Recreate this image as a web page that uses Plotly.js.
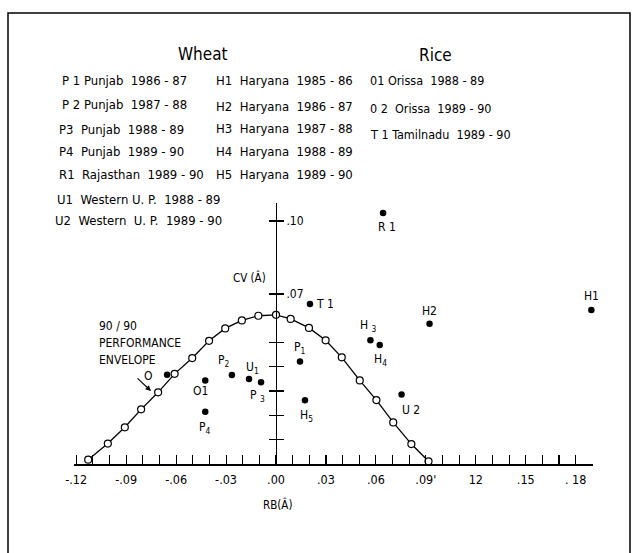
<!DOCTYPE html>
<html><head><meta charset="utf-8">
<script src="https://cdn.plot.ly/plotly-3.0.1.min.js"></script>
<style>html,body{margin:0;padding:0;background:#fff}#chart{width:635px;height:553px}</style>
</head><body><div id="chart"></div>
<script>
// ---- data ----
const envelopeRB = [-0.1128,-0.101,-0.0908,-0.081,-0.0708,-0.0609,-0.0503,-0.0402,-0.0305,-0.0205,-0.0106,0.0,0.0088,0.0198,0.0298,0.0395,0.0503,0.0603,0.0704,0.0813,0.0916];
const envelopeCV = [0.0018,0.0084,0.0151,0.0225,0.0295,0.0371,0.0436,0.0507,0.0558,0.0591,0.0610,0.0614,0.0597,0.0560,0.0509,0.0439,0.0344,0.0263,0.0171,0.0082,0.0011];
const pointIds   = ['T1','R1','H1','H2','H3','H4','U2','P1','H5','P2','U1','P3','O1','P4','O2'];
const pointText  = ['T 1','R 1','H1','H2','H <sub>3</sub>','H<sub>4</sub>','U 2','P<sub>1</sub>','H<sub>5</sub>','P<sub>2</sub>','U<sub>1</sub>','P <sub>3</sub>','O1','P<sub>4</sub>','O'];
const pointRB    = [0.0204,0.0643,0.1894,0.0922,0.0567,0.0623,0.0754,0.0144,0.0174,-0.0265,-0.0162,-0.0090,-0.0425,-0.0425,-0.0654];
const pointCV    = [0.0658,0.1033,0.0634,0.0577,0.0509,0.0490,0.0286,0.0422,0.0262,0.0366,0.0350,0.0336,0.0344,0.0215,0.0367];
const xTickLabelVals = [-0.12,-0.09,-0.06,-0.03,0.00,0.03,0.06,0.09,0.12,0.15,0.18];
const xTickLabels    = ['-.12','-.09','-.06','-.03','.00','.03','.06','.09\'','12','.15','. 18'];
const yMinorTickVals = [0.01,0.02,0.03,0.04,0.05];
const yLabelTickVals = [0.07,0.10];
const yTickLabels    = ['.07','.10'];
const wheatTitle = 'Wheat', riceTitle = 'Rice';
const wheatCol1 = ['P 1 Punjab  1986 - 87','P 2 Punjab  1987 - 88','P3  Punjab  1988 - 89','P4  Punjab  1989 - 90','R1  Rajasthan  1989 - 90','U1  Western U. P.  1988 - 89','U2  Western  U. P.  1989 - 90'];
const wheatCol2 = ['H1  Haryana  1985 - 86','H2  Haryana  1986 - 87','H3  Haryana  1987 - 88','H4  Haryana  1988 - 89','H5  Haryana  1989 - 90'];
const riceCol   = ['01 Orissa  1988 - 89','0 2  Orissa  1989 - 90','T 1 Tamilnadu  1989 - 90'];
const envelopeText = ['90 / 90','PERFORMANCE','ENVELOPE'];
const xTitle = 'RB(Â)', yTitle = 'CV (Â)';

// ---- layout helpers ----
const F = 'DejaVu Sans Condensed, Liberation Sans Narrow, sans-serif';
const L = 74, R = 42, T = 203, B = 89, WW = 635, HH = 553;
const PW = WW - L - R, PH = HH - T - B;
const KX = 1665, KY = 2430;
const zeroPx = 276;
const xRange = [-(zeroPx - L) / KX, (WW - R - zeroPx) / KX];
const yRange = [0, PH / KY];
const px = x => (x - L) / PW;
const py = y => (HH - B - y) / PH;

const labelOffsets = { // pixel offsets [dx, dy(down)]
  T1:[15,0], R1:[4,14], H1:[0,-14], H2:[0,-13], H3:[-2,-14], H4:[1,15], U2:[9,15],
  P1:[0,-13], H5:[2,16], P2:[-8,-14], U1:[3,-11], P3:[-4,14], O1:[-5,11], P4:[0,16], O2:[-19,1]
};

const annotations = [];
const txt = (x, y, text, size, anchor) => annotations.push({
  xref:'paper', yref:'paper', x:px(x), y:py(y), text, showarrow:false,
  xanchor: anchor || 'left', yanchor:'middle', font:{family:F, size:size, color:'#000'}
});
txt(203, 54, wheatTitle, 17, 'center');
txt(435, 55, riceTitle, 17, 'center');
const c1y = [80,105,129,151,174,199,220], c1x = [60,60,57,57,57,55,53];
wheatCol1.forEach((t,i) => txt(c1x[i], c1y[i], t, 13));
const c2y = [80,106,128,151,174];
wheatCol2.forEach((t,i) => txt(214, c2y[i], t, 13));
const c3y = [80,108,134];
riceCol.forEach((t,i) => txt(368, c3y[i], t, 12.5));
const ey = [326,343,360];
envelopeText.forEach((t,i) => txt(97, ey[i], t, 12));
txt(249, 277, yTitle, 11.5, 'center');
txt(277, 504, xTitle, 11.5, 'center');
// arrow from envelope label to curve
annotations.push({xref:'paper', yref:'paper', x:px(151), y:py(391), ax:-15, ay:-14, axref:'pixel', ayref:'pixel',
  text:'', showarrow:true, arrowhead:2, arrowsize:1, arrowwidth:1.1, arrowcolor:'#000'});

pointIds.forEach((id,i) => {
  const o = labelOffsets[id];
  annotations.push({x:pointRB[i], y:pointCV[i], xref:'x', yref:'y', text:pointText[i], showarrow:false,
    xshift:o[0], yshift:-o[1], xanchor:'center', yanchor:'middle', font:{family:F, size:12, color:'#000'}});
});

const traces = [
  {x:envelopeRB, y:envelopeCV, type:'scatter', mode:'lines+markers', cliponaxis:false,
   line:{color:'#000', width:1.3}, marker:{symbol:'circle', size:7, color:'#fff', line:{color:'#000', width:1.2}},
   hoverinfo:'skip', showlegend:false},
  {x:pointRB, y:pointCV, text:pointIds, type:'scatter', mode:'markers', yaxis:'y2', cliponaxis:false,
   marker:{symbol:'circle', size:6.5, color:'#000'}, showlegend:false}
];

const tickStyle = {ticklen:9, tickwidth:1.1, tickcolor:'#000'};
const layout = {
  width:WW, height:HH, margin:{l:L, r:R, t:T, b:B}, paper_bgcolor:'#fff', plot_bgcolor:'rgba(0,0,0,0)',
  showlegend:false,
  xaxis:{range:xRange, showline:true, linewidth:1.6, linecolor:'#000', ticks:'inside', ...tickStyle,
    tickmode:'array', tickvals:xTickLabelVals, ticktext:xTickLabels, ticklabelstandoff:3,
    minor:{ticks:'inside', tick0:0, dtick:0.01, ...tickStyle},
    showgrid:false, zeroline:false, tickfont:{family:F, size:12.5, color:'#000'}, fixedrange:true},
  yaxis:{range:yRange, anchor:'free', position:(zeroPx - L)/PW, showline:true, linewidth:1.3, linecolor:'#000',
    ticks:'outside', ticklen:7, tickwidth:1.3, tickcolor:'#000', tickmode:'array', tickvals:yLabelTickVals,
    showticklabels:false,
    minor:{ticks:'outside', tickmode:'array', tickvals:yMinorTickVals, ticklen:7, tickwidth:1.3, tickcolor:'#000'},
    showgrid:false, zeroline:false, fixedrange:true},
  yaxis2:{range:yRange, overlaying:'y', side:'right', anchor:'free', position:(zeroPx - L)/PW, showline:false,
    ticks:'outside', ticklen:7, tickwidth:1.3, tickcolor:'#000', tickmode:'array', tickvals:yLabelTickVals, ticktext:yTickLabels,
    minor:{ticks:'outside', tickmode:'array', tickvals:yMinorTickVals, ticklen:7, tickwidth:1.3, tickcolor:'#000'},
    showgrid:false, zeroline:false, tickfont:{family:F, size:12, color:'#000'}, fixedrange:true},
  shapes:[{type:'rect', xref:'paper', yref:'paper', x0:px(8), x1:px(630), y0:py(13), y1:py(570),
    line:{color:'#000', width:1.5}}],
  annotations
};
Plotly.newPlot('chart', traces, layout, {displayModeBar:false, staticPlot:true});
</script></body></html>
